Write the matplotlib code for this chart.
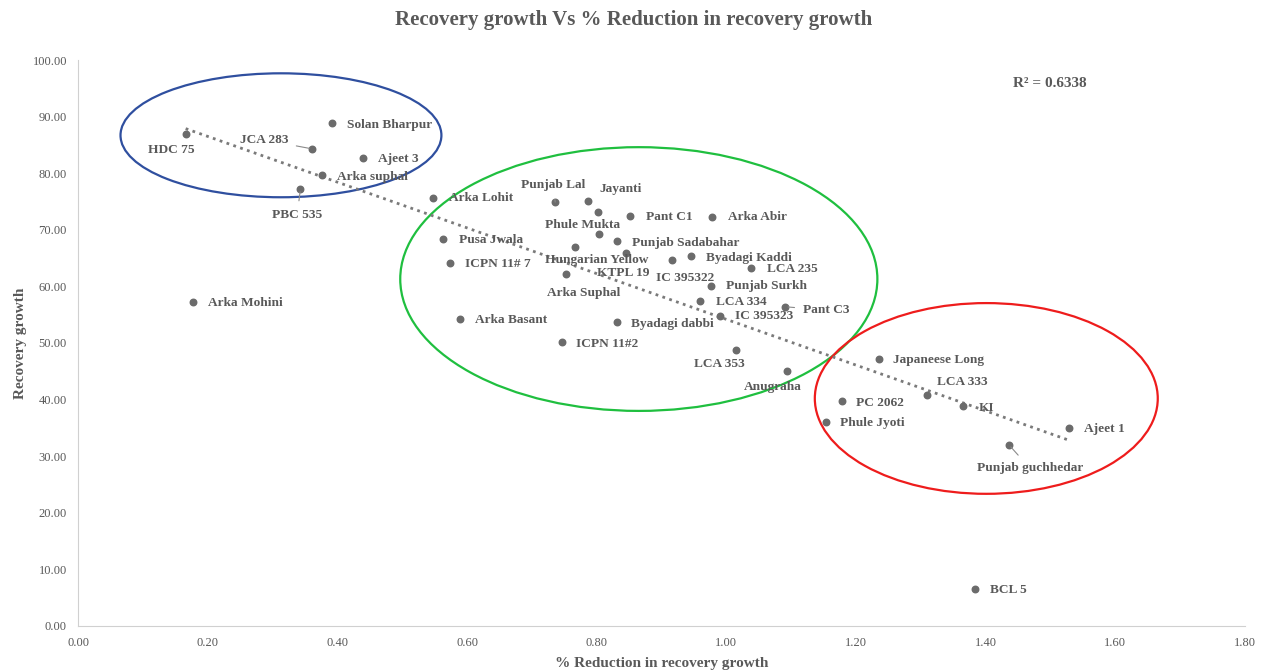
import numpy as np
import matplotlib
matplotlib.use('Agg')
from matplotlib import pyplot as plt
from matplotlib.patches import Ellipse

#------------------------------------------------------------
# data
names = ['HDC 75', 'Solan Bharpur', 'JCA 283', 'Ajeet 3', 'Arka suphal', 'PBC 535',
         'Arka Mohini', 'Arka Lohit', 'Pusa Jwala', 'ICPN 11# 7', 'Arka Basant',
         'ICPN 11#2', 'Punjab Lal', 'Jayanti', 'Phule Mukta', 'Pant C1', 'Arka Abir',
         '', 'Punjab Sadabahar', 'Hungarian Yellow', 'KTPL 19', 'IC 395322',
         'Byadagi Kaddi', 'Arka Suphal', 'LCA 235', 'Punjab Surkh', 'LCA 334',
         'IC 395323', 'Pant C3', 'Byadagi dabbi', 'LCA 353', 'Anugraha',
         'Japaneese Long', 'LCA 333', 'KI', 'PC 2062', 'Phule Jyoti', 'Ajeet 1',
         'Punjab guchhedar', 'BCL 5']
reduction = [0.166, 0.391, 0.361, 0.440, 0.377, 0.343,
             0.177, 0.548, 0.563, 0.574, 0.589,
             0.746, 0.736, 0.786, 0.802, 0.851, 0.978,
             0.804, 0.831, 0.767, 0.845, 0.916,
             0.946, 0.753, 1.038, 0.976, 0.960,
             0.990, 1.091, 0.831, 1.015, 1.093,
             1.236, 1.310, 1.365, 1.178, 1.154, 1.529,
             1.436, 1.384]
growth = [87.0, 88.8, 84.3, 82.7, 79.6, 77.2,
          57.2, 75.6, 68.3, 64.1, 54.3,
          50.1, 74.9, 75.1, 73.1, 72.4, 72.2,
          69.2, 68.1, 66.9, 65.9, 64.6,
          65.4, 62.2, 63.2, 60.0, 57.5,
          54.8, 56.4, 53.7, 48.7, 45.1,
          47.1, 40.8, 38.9, 39.7, 36.0, 34.9,
          32.0, 6.5]
r2_text = 'R² = 0.6338'

# label placement (x, y, ha) in data units
label_pos = {
    'HDC 75': (0.1435, 84.1, 'center'), 'Solan Bharpur': (0.415, 88.5, 'left'),
    'JCA 283': (0.324, 85.9, 'right'), 'Ajeet 3': (0.463, 82.5, 'left'),
    'Arka suphal': (0.400, 79.3, 'left'), 'PBC 535': (0.338, 72.6, 'center'),
    'Arka Mohini': (0.2005, 57.1, 'left'), 'Arka Lohit': (0.572, 75.6, 'left'),
    'Pusa Jwala': (0.588, 68.2, 'left'), 'ICPN 11# 7': (0.597, 64.0, 'left'),
    'Arka Basant': (0.612, 54.1, 'left'), 'ICPN 11#2': (0.768, 49.8, 'left'),
    'Punjab Lal': (0.733, 77.9, 'center'), 'Jayanti': (0.805, 77.2, 'left'),
    'Phule Mukta': (0.778, 70.8, 'center'), 'Pant C1': (0.876, 72.3, 'left'),
    'Arka Abir': (1.003, 72.3, 'left'), 'Punjab Sadabahar': (0.855, 67.7, 'left'),
    'Hungarian Yellow': (0.720, 64.6, 'left'), 'KTPL 19': (0.800, 62.3, 'left'),
    'IC 395322': (0.892, 61.5, 'left'), 'Byadagi Kaddi': (0.969, 65.0, 'left'),
    'Arka Suphal': (0.723, 58.8, 'left'), 'LCA 235': (1.063, 63.1, 'left'),
    'Punjab Surkh': (1.000, 60.1, 'left'), 'LCA 334': (0.984, 57.2, 'left'),
    'IC 395323': (1.013, 54.8, 'left'), 'Pant C3': (1.118, 55.8, 'left'),
    'Byadagi dabbi': (0.853, 53.4, 'left'), 'LCA 353': (0.990, 46.3, 'center'),
    'Anugraha': (1.072, 42.2, 'center'), 'Japaneese Long': (1.257, 47.0, 'left'),
    'LCA 333': (1.364, 43.1, 'center'), 'KI': (1.389, 38.5, 'left'),
    'PC 2062': (1.200, 39.4, 'left'), 'Phule Jyoti': (1.175, 35.9, 'left'),
    'Ajeet 1': (1.552, 34.8, 'left'), 'Punjab guchhedar': (1.468, 27.9, 'center'),
    'BCL 5': (1.407, 6.4, 'left'),
}
leader = ['JCA 283', 'PBC 535', 'Punjab Lal', 'Pant C3', 'Punjab guchhedar']

grey = '#595959'
plt.rcParams['font.family'] = ['Liberation Serif', 'DejaVu Serif']

fig = plt.figure(figsize=(12.67, 6.72), dpi=100)
ax = fig.add_axes([0.0616, 0.0685, 0.921, 0.8422])

x = np.array(reduction)
y = np.array(growth)
ax.scatter(x, y, s=22, color='#6b6b6b', zorder=3)

# linear trend line over the data range
slope, icpt = np.polyfit(x, y, 1)
xt = np.array([x.min(), x.max()])
ax.plot(xt, slope * xt + icpt, ls=(0, (1, 1.6)), color='#7a7a7a', lw=2, zorder=2)

for name, xi, yi in zip(names, reduction, growth):
    if not name:
        continue
    tx, ty, ha = label_pos[name]
    if name in leader:
        ax.annotate(name, xy=(xi, yi), xytext=(tx, ty), ha=ha, va='center',
                    fontsize=9.6, fontweight='bold', color=grey,
                    arrowprops=dict(arrowstyle='-', color='#8a8a8a', lw=0.8,
                                    shrinkA=4, shrinkB=2))
    else:
        ax.text(tx, ty, name, ha=ha, va='center', fontsize=9.6,
                fontweight='bold', color=grey)

# group ellipses
ax.add_patch(Ellipse((0.313, 86.7), 0.495, 21.9, fill=False, ec='#2f4f9f', lw=1.6))
ax.add_patch(Ellipse((0.865, 61.3), 0.736, 46.6, fill=False, ec='#1fbf3f', lw=1.6))
ax.add_patch(Ellipse((1.401, 40.2), 0.529, 33.7, fill=False, ec='#ee1c1c', lw=1.6))

ax.text(1.442, 95.3, r2_text, fontsize=11, fontweight='bold', color=grey)

ax.set_xlim(0, 1.8)
ax.set_ylim(0, 100)
ax.set_xticks(np.arange(0, 1.81, 0.2))
ax.set_yticks(np.arange(0, 101, 10))
ax.xaxis.set_major_formatter(plt.FormatStrFormatter('%.2f'))
ax.yaxis.set_major_formatter(plt.FormatStrFormatter('%.2f'))
ax.tick_params(length=0, labelsize=9, colors=grey, pad=8)
for s in ['top', 'right']:
    ax.spines[s].set_visible(False)
for s in ['left', 'bottom']:
    ax.spines[s].set_color('#d0d0d0')

ax.set_xlabel('% Reduction in recovery growth', fontsize=11, fontweight='bold',
              color=grey, labelpad=6)
ax.set_ylabel('Recovery growth', fontsize=11, fontweight='bold', color=grey,
              labelpad=4)
fig.suptitle('Recovery growth Vs % Reduction in recovery growth', x=0.5, y=0.985,
             fontsize=15, fontweight='bold', color=grey)

plt.savefig('out.png', dpi=100)
